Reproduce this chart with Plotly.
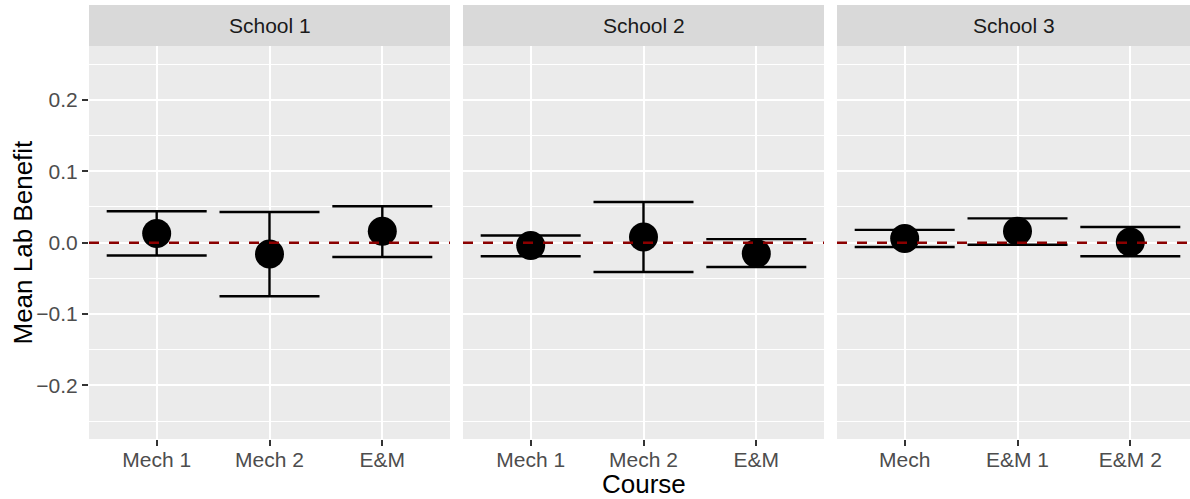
import plotly.graph_objects as go

schools = ["School 1", "School 2", "School 3"]
courses = [["Mech 1", "Mech 2", "E&M"],
           ["Mech 1", "Mech 2", "E&M"],
           ["Mech", "E&M 1", "E&M 2"]]
means = [[0.013, -0.016, 0.016],
         [-0.004, 0.008, -0.015],
         [0.006, 0.016, 0.001]]
lowers = [[-0.018, -0.075, -0.020],
          [-0.019, -0.041, -0.034],
          [-0.006, -0.003, -0.019]]
uppers = [[0.044, 0.043, 0.051],
          [0.010, 0.057, 0.005],
          [0.018, 0.034, 0.022]]
y_ticks = [-0.2, -0.1, 0.0, 0.1, 0.2]

W, H = 1190, 499
ML, MR, MT, MB = 89, 0, 46, 60
PW = W - ML - MR
PH = H - MT - MB
panel_px = [(89, 450), (463, 824), (837, 1190)]
x_ranges = [[-0.6, 2.6], [-0.6, 2.6], [-0.6, 2.6 - 8 / 112.8]]

FONT = "Liberation Sans, Arial, sans-serif"
TICK_FS = 21
fig = go.Figure()
shapes = []
annotations = []

for i in range(3):
    xa = "x" if i == 0 else f"x{i+1}"
    ya = "y" if i == 0 else f"y{i+1}"
    m = means[i]
    up = [u - v for u, v in zip(uppers[i], m)]
    dn = [v - l for v, l in zip(m, lowers[i])]
    fig.add_trace(go.Scatter(
        x=courses[i], y=m, mode="markers", xaxis=xa, yaxis=ya,
        marker=dict(color="black", size=29, line=dict(width=0)),
        error_y=dict(type="data", symmetric=False, array=up, arrayminus=dn,
                     color="black", thickness=2.4, width=50),
        showlegend=False, hoverinfo="skip"))
    x0 = (panel_px[i][0] - ML) / PW
    x1 = (panel_px[i][1] - ML) / PW
    axkey = "xaxis" if i == 0 else f"xaxis{i+1}"
    aykey = "yaxis" if i == 0 else f"yaxis{i+1}"
    fig.layout[axkey] = dict(
        domain=[x0, x1], anchor=ya, type="category",
        categoryorder="array", categoryarray=courses[i],
        range=x_ranges[i], showgrid=True, gridcolor="white", gridwidth=2.2,
        zeroline=False, showline=False, ticks="outside", ticklen=6,
        tickwidth=2, tickcolor="#333333", ticklabelstandoff=-4,
        tickfont=dict(family=FONT, size=TICK_FS, color="#4D4D4D"),
        fixedrange=True)
    fig.layout[aykey] = dict(
        domain=[0, 1], anchor=xa, range=[-0.275, 0.2755],
        tickvals=y_ticks, ticktext=["\u22120.2", "\u22120.1", "0.0", "0.1", "0.2"],
        showticklabels=(i == 0),
        ticks="outside" if i == 0 else "", ticklen=6, tickwidth=2,
        tickcolor="#333333",
        tickfont=dict(family=FONT, size=TICK_FS, color="#4D4D4D"),
        showgrid=True, gridcolor="white", gridwidth=2.2,
        minor=dict(dtick=0.05, tick0=0.05, showgrid=True, gridcolor="white",
                   gridwidth=1.1, ticks=""),
        zeroline=False, showline=False, fixedrange=True)
    shapes.append(dict(type="rect", xref=f"{xa} domain", yref=f"{ya} domain",
                       x0=0, x1=1, y0=0, y1=1, fillcolor="#EBEBEB",
                       line=dict(width=0), layer="below"))
    shapes.append(dict(type="rect", xref=f"{xa} domain", yref="paper",
                       x0=0, x1=1, y0=1, y1=1 + 41 / PH, fillcolor="#D9D9D9",
                       line=dict(width=0), layer="below"))
    shapes.append(dict(type="line", xref=f"{xa} domain", yref=ya,
                       x0=0, x1=1, y0=0, y1=0,
                       line=dict(color="#8B0000", width=2.6, dash="10px,10px"),
                       layer="above"))
    annotations.append(dict(text=schools[i], xref=f"{xa} domain", yref="paper",
                            x=0.5, y=1 + 20.5 / PH, showarrow=False,
                            xanchor="center", yanchor="middle",
                            font=dict(family=FONT, size=TICK_FS, color="#1A1A1A")))

annotations.append(dict(text="Course", xref="paper", yref="paper",
                        x=(643.5 - ML) / PW, y=-(484 - (H - MB)) / PH,
                        showarrow=False, xanchor="center", yanchor="middle",
                        font=dict(family=FONT, size=26, color="black")))
annotations.append(dict(text="Mean Lab Benefit", xref="paper", yref="paper",
                        x=-(ML - 22) / PW, y=0.5, textangle=-90,
                        showarrow=False, xanchor="center", yanchor="middle",
                        font=dict(family=FONT, size=26, color="black")))

fig.update_layout(width=W, height=H,
                  margin=dict(l=ML, r=MR, t=MT, b=MB, pad=0),
                  paper_bgcolor="white", plot_bgcolor="rgba(0,0,0,0)",
                  shapes=shapes, annotations=annotations, showlegend=False)

fig.write_html("out.html", config={"displayModeBar": False},
               post_script="document.body.style.margin='0';document.body.style.padding='0';document.body.style.overflow='hidden';")
